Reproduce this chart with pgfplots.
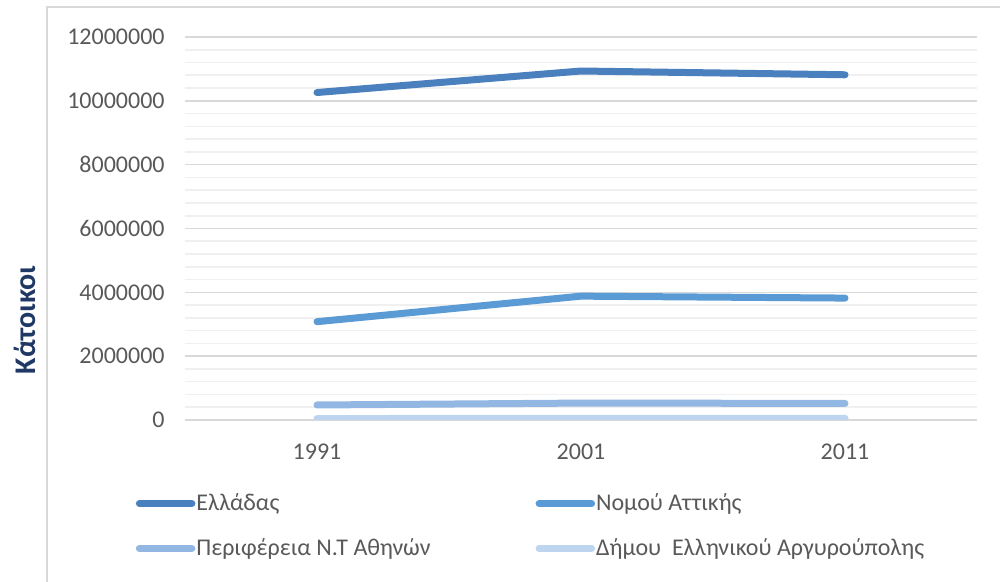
\documentclass[border=0pt]{standalone}
\usepackage{fontspec}
\setmainfont{Carlito}
\usepackage{pgfplots}
\pgfplotsset{compat=1.18}
\definecolor{cGR}{HTML}{4A80BE}
\definecolor{cAT}{HTML}{5B9BD5}
\definecolor{cNT}{HTML}{92B7E2}
\definecolor{cEL}{HTML}{BDD5EE}
\definecolor{gmaj}{HTML}{D9D9D9}
\definecolor{gmin}{HTML}{F0F0F0}
\definecolor{tick}{HTML}{595959}
\definecolor{navy}{HTML}{1F3864}
\begin{document}
\begin{tikzpicture}
\useasboundingbox (0pt,0pt) rectangle (500pt,291pt);
\draw[color=gmaj, line width=0.8pt] (23.5pt,0pt) -- (23.5pt,287.5pt) -- (500pt,287.5pt);
\node[rotate=90, font=\bfseries\fontsize{15}{17}\selectfont, text=navy] at (12.5pt,131pt) {Κάτοικοι};
\begin{axis}[
  at={(92.5pt,81pt)}, anchor=south west,
  scale only axis, width=396pt, height=191.5pt,
  xmin=-0.5, xmax=2.5, ymin=0, ymax=12000000,
  axis line style={draw=none},
  xtick={0,1,2}, xticklabels={1991,2001,2011},
  ytick={0,2000000,4000000,6000000,8000000,10000000,12000000},
  minor y tick num=4,
  ymajorgrids, yminorgrids,
  major grid style={color=gmaj, line width=0.8pt},
  minor grid style={color=gmin, line width=0.8pt},
  major tick length=0pt, minor tick length=0pt,
  tick style={draw=none},
  scaled y ticks=false,
  /pgf/number format/.cd, fixed, precision=0, 1000 sep={}, assume math mode=true,
  /pgfplots/.cd,
  tick label style={font=\fontsize{12}{14}\selectfont, text=tick},
  yticklabel style={inner sep=0pt, anchor=east, xshift=-10pt},
  xticklabel style={inner sep=0pt, anchor=north, yshift=-12pt},
  legend columns=2,
  legend cell align=left,
  legend style={at={(-0.0701,-0.178)}, anchor=north west, draw=none, fill=none,
    font=\fontsize{12}{14}\selectfont, text=tick,
    nodes={inner sep=0.5pt},
    /tikz/every even column/.append style={column sep=52pt},
    row sep=11.5pt},
  legend image code/.code={\draw[#1, line cap=round] (1.75pt,0pt) -- (28pt,0pt);},
  every axis plot/.append style={line width=3.5pt, line cap=round, line join=round},
]
\addplot[cGR] coordinates {(0,10259900) (1,10934097) (2,10816286)};
\addlegendentry{Ελλάδας}
\addplot[cAT] coordinates {(0,3080000) (1,3880000) (2,3820000)};
\addlegendentry{Νομού Αττικής}
\addplot[cNT] coordinates {(0,470000) (1,530000) (2,520000)};
\addlegendentry{Περιφέρεια Ν.Τ Αθηνών}
\addplot[cEL] coordinates {(0,45000) (1,52000) (2,51356)};
\addlegendentry{Δήμου~~Ελληνικού Αργυρούπολης}
\end{axis}
\end{tikzpicture}
\end{document}
